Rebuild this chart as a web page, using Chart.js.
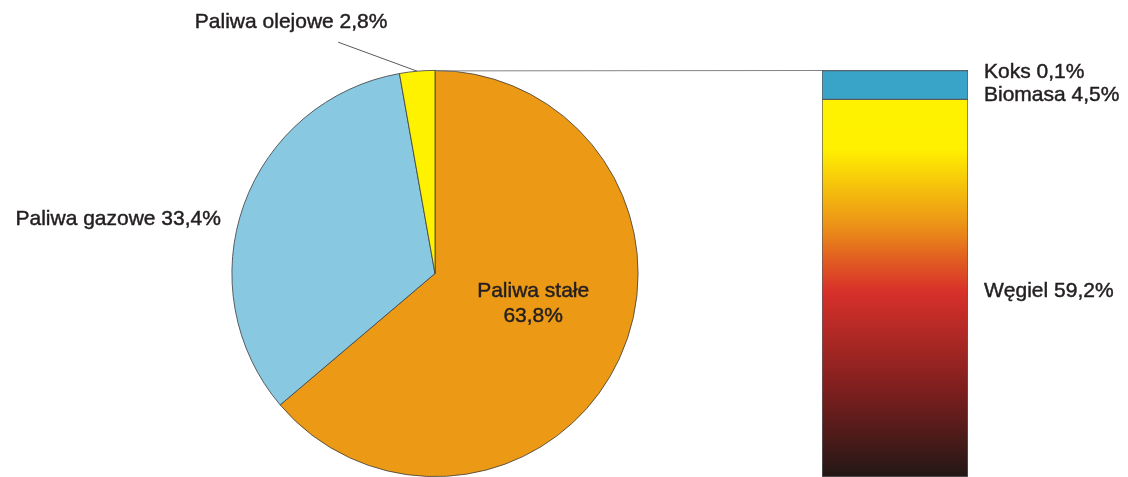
<!DOCTYPE html>
<html lang="pl">
<head>
<meta charset="utf-8">
<title>Struktura zużycia paliw</title>
<script src="https://cdn.jsdelivr.net/npm/chart.js@4.4.1/dist/chart.umd.min.js"></script>
<style>
  html, body { margin: 0; padding: 0; background: #fff; }
  #wrap { position: relative; width: 1128px; height: 477px; overflow: hidden; }
  #wrap canvas { position: absolute; left: 0; top: 0; }
</style>
</head>
<body>
<div id="wrap">
  <canvas id="pie-chart" width="1128" height="477"></canvas>
  <canvas id="bar-chart" width="1128" height="477"></canvas>
</div>
<script>
const fuelLabels = ['Paliwa stałe', 'Paliwa gazowe', 'Paliwa olejowe'];
const fuelValues = [63.8, 33.4, 2.8];
const fuelColors = ['#ec9a15', '#88c8e1', '#fff200'];

// breakdown of solid fuels, bottom to top of the stacked bar
const solidLabels = ['Węgiel', 'Biomasa', 'Koks'];
const solidValues = [59.2, 4.5, 0.1];
const solidColors = [null, '#3aa3c8', '#2e4f6e'];

const FONT = '21px "Liberation Sans", Arial, sans-serif';
const TEXT = '#231f20';

function pct(v) {
  return v.toFixed(1).replace('.', ',') + '%';
}

function arcPoint(arc, angle, r) {
  return { x: arc.x + Math.cos(angle) * r, y: arc.y + Math.sin(angle) * r };
}

// filled text with a hairline stroke so it reads a touch heavier
function label(ctx, text, x, y) {
  ctx.fillText(text, x, y);
  ctx.strokeText(text, x, y);
}

function textStyle(ctx) {
  ctx.font = FONT;
  ctx.fillStyle = TEXT;
  ctx.strokeStyle = TEXT;
  ctx.lineWidth = 0.45;
  ctx.textBaseline = 'middle';
}

const pieLabelsPlugin = {
  id: 'pieLabels',
  afterDatasetsDraw(chart) {
    const ctx = chart.ctx;
    const arcs = chart.getDatasetMeta(0).data;
    ctx.save();

    // oil fuels: leader line from the small slice
    const a2 = arcs[2];
    const p2 = arcPoint(a2, (a2.startAngle + a2.endAngle) / 2, a2.outerRadius);
    ctx.strokeStyle = '#58595b';
    ctx.lineWidth = 1;
    ctx.beginPath();
    ctx.moveTo(p2.x - 79, p2.y - 29);
    ctx.lineTo(p2.x, p2.y);
    ctx.stroke();

    textStyle(ctx);

    // solid fuels: two lines inside the slice
    const a0 = arcs[0];
    const mid0 = (a0.startAngle + a0.endAngle) / 2;
    const p0 = arcPoint(a0, mid0, a0.outerRadius * 0.5);
    ctx.textAlign = 'center';
    label(ctx, fuelLabels[0], p0.x + 6, p0.y - 25);
    label(ctx, pct(fuelValues[0]), p0.x + 6, p0.y);

    // gas fuels: to the left of the slice
    const a1 = arcs[1];
    const p1 = arcPoint(a1, (a1.startAngle + a1.endAngle) / 2, a1.outerRadius);
    ctx.textAlign = 'right';
    label(ctx, fuelLabels[1] + ' ' + pct(fuelValues[1]), p1.x - 23, p1.y + 15);

    // oil fuels: text above the leader line
    ctx.textAlign = 'center';
    label(ctx, fuelLabels[2] + ' ' + pct(fuelValues[2]), p2.x - 126, p2.y - 49);
    ctx.restore();
  }
};

const pieChart = new Chart(document.getElementById('pie-chart'), {
  type: 'pie',
  data: {
    labels: fuelLabels,
    datasets: [{
      data: fuelValues,
      backgroundColor: fuelColors,
      borderColor: '#3c3c3c',
      borderWidth: 0.8
    }]
  },
  options: {
    responsive: false,
    animation: false,
    devicePixelRatio: 1,
    layout: { padding: { left: 231, right: 489, top: 70, bottom: 0 } },
    plugins: { legend: { display: false }, tooltip: { enabled: false } }
  },
  plugins: [pieLabelsPlugin]
});

function coalGradient(context) {
  const chart = context.chart;
  if (!chart.chartArea) return '#d8302a';
  const y = chart.scales.y;
  const top = y.getPixelForValue(solidValues[0]);
  const bottom = y.getPixelForValue(0);
  const g = chart.ctx.createLinearGradient(0, top, 0, bottom);
  g.addColorStop(0, '#fff200');
  g.addColorStop(0.13, '#fff100');
  g.addColorStop(0.34, '#eb8f18');
  g.addColorStop(0.43, '#e05a22');
  g.addColorStop(0.51, '#d8302a');
  g.addColorStop(0.77, '#7d1f1e');
  g.addColorStop(1, '#221715');
  return g;
}

const barLabelsPlugin = {
  id: 'barLabels',
  afterDatasetsDraw(chart) {
    const ctx = chart.ctx;
    const area = chart.chartArea;
    const y = chart.scales.y;
    ctx.save();

    // line joining the top of the pie to the top of the bar
    const arc = pieChart.getDatasetMeta(0).data[0];
    ctx.strokeStyle = '#808285';
    ctx.lineWidth = 1;
    ctx.beginPath();
    ctx.moveTo(arc.x, arc.y - arc.outerRadius + 0.5);
    ctx.lineTo(area.left, y.getPixelForValue(fuelValues[0]) + 0.5);
    ctx.stroke();

    textStyle(ctx);
    ctx.textAlign = 'left';
    const x = area.right + 16;
    const top = y.getPixelForValue(fuelValues[0]);
    label(ctx, solidLabels[2] + ' ' + pct(solidValues[2]), x, top + 2);
    label(ctx, solidLabels[1] + ' ' + pct(solidValues[1]), x, top + 25);
    const coalMid = (y.getPixelForValue(0) + y.getPixelForValue(solidValues[0])) / 2;
    label(ctx, solidLabels[0] + ' ' + pct(solidValues[0]), x, coalMid + 3);
    ctx.restore();
  }
};

new Chart(document.getElementById('bar-chart'), {
  type: 'bar',
  data: {
    labels: [fuelLabels[0]],
    datasets: solidLabels.map((name, i) => ({
      label: name,
      data: [solidValues[i]],
      backgroundColor: i === 0 ? coalGradient : solidColors[i],
      borderColor: '#5a5b5d',
      borderWidth: 1,
      borderSkipped: false,
      barPercentage: 1,
      categoryPercentage: 1
    }))
  },
  options: {
    responsive: false,
    animation: false,
    devicePixelRatio: 1,
    layout: { padding: { left: 822, right: 160, top: 70, bottom: 0 } },
    scales: {
      x: { stacked: true, display: false },
      y: { stacked: true, display: false, min: 0, max: fuelValues[0] }
    },
    plugins: { legend: { display: false }, tooltip: { enabled: false } }
  },
  plugins: [barLabelsPlugin]
});
</script>
</body>
</html>
